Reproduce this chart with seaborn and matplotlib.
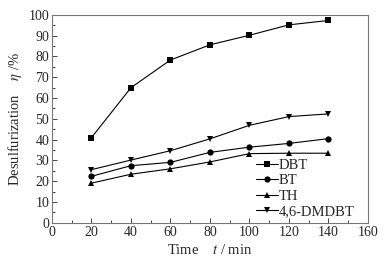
import matplotlib
matplotlib.use("Agg")
import matplotlib.pyplot as plt
import seaborn as sns
import pandas as pd
from matplotlib.ticker import MultipleLocator

time_min = [20, 40, 60, 80, 100, 120, 140]
dbt = [41, 65, 78.3, 85.6, 90.2, 95.2, 97.3]
bt = [22.4, 27.5, 29.1, 33.9, 36.4, 38.2, 40.5]
th = [19.1, 23.4, 26.0, 29.3, 33.3, 33.5, 33.5]
dmdbt = [25.6, 30.2, 34.7, 40.4, 46.9, 51.1, 52.4]

series = ["DBT", "BT", "TH", "4,6-DMDBT"]
markers = ["s", "o", "^", "v"]

df = pd.concat([
    pd.DataFrame({"time": time_min, "eta": vals, "compound": name})
    for name, vals in zip(series, [dbt, bt, th, dmdbt])
])

sns.set_style("ticks")
plt.rcParams["font.family"] = ["Liberation Serif", "DejaVu Serif"]
plt.rcParams["mathtext.fontset"] = "stix"

fig = plt.figure(figsize=(3.88, 2.61), dpi=100)
ax = fig.add_axes([0.134, 0.146, 0.814, 0.797])

sns.lineplot(data=df, x="time", y="eta", hue="compound", style="compound",
             hue_order=series, style_order=series,
             palette=["black"] * 4, markers=markers, dashes=False,
             markersize=4.5, linewidth=0.8, markeredgewidth=0, ax=ax)

ax.set_xlim(0, 160)
ax.set_ylim(0, 100)
ax.xaxis.set_major_locator(MultipleLocator(20))
ax.xaxis.set_minor_locator(MultipleLocator(10))
ax.yaxis.set_major_locator(MultipleLocator(10))
ax.yaxis.set_minor_locator(MultipleLocator(5))
ax.tick_params(which="both", direction="in", labelsize=10, pad=2,
               top=False, right=False)
ax.tick_params(which="major", length=3.5, width=0.6)
ax.tick_params(which="minor", length=2, width=0.6)
for sp in ax.spines.values():
    sp.set_color("#777777")
    sp.set_linewidth(0.8)

ax.set_xlabel(r"Time    $t$ / min", fontsize=10.5, labelpad=3)
ax.set_ylabel(r"Desulfurization    $\eta$ /%", fontsize=10.5, labelpad=3)

leg = ax.legend(loc="lower right", frameon=False, fontsize=10.5,
                handlelength=1.5, handletextpad=0.0, labelspacing=0.15,
                borderaxespad=0.0, bbox_to_anchor=(0.975, -0.005))

fig.savefig("out.png", dpi=100)
